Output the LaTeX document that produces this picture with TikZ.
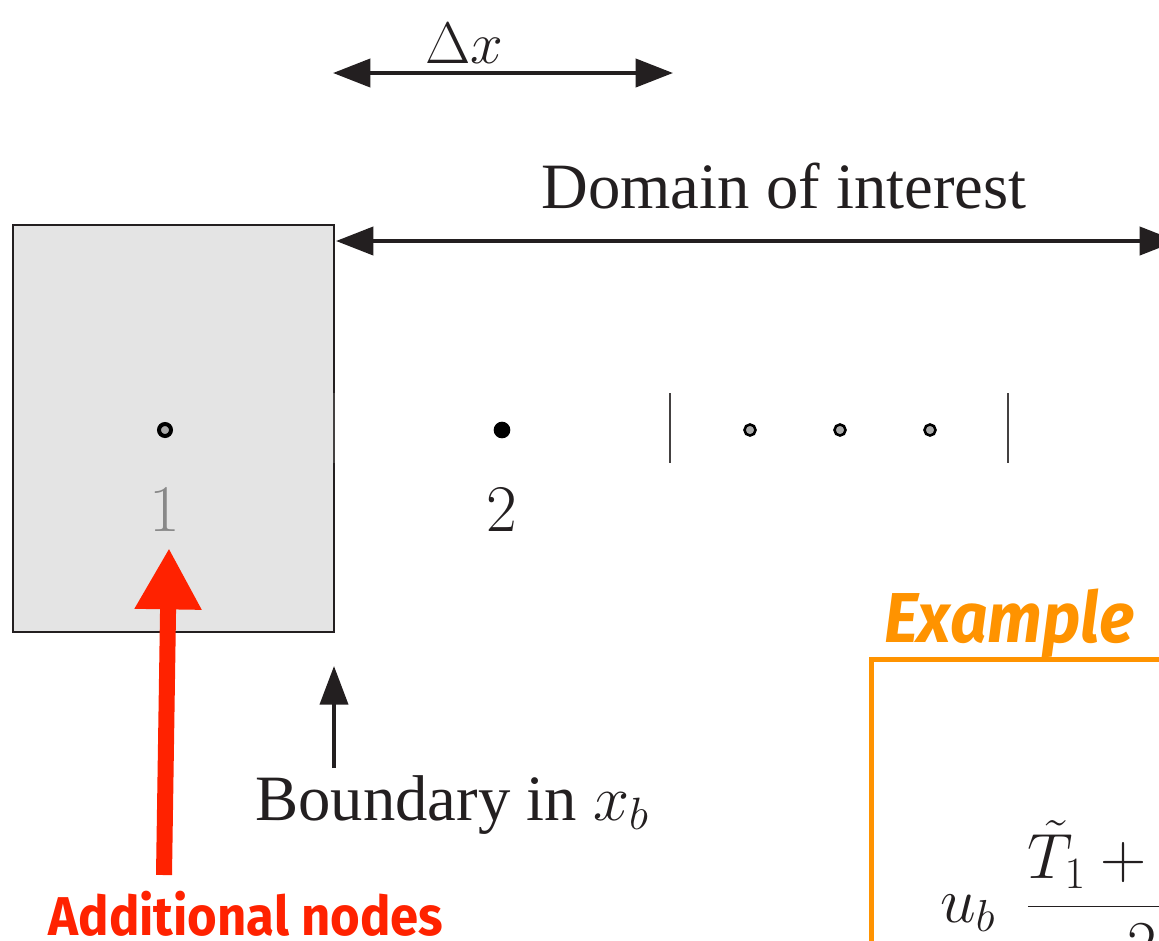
\documentclass[tikz,border=0pt]{standalone}
\usepackage{fix-cm}
\usepackage{fontspec}
\setmainfont{Liberation Serif}
\newfontfamily\labelfont[FakeStretch=0.93]{Fira Sans}
\usetikzlibrary{arrows.meta}
\definecolor{boxgray}{HTML}{E4E4E4}
\definecolor{ink}{HTML}{231F20}
\definecolor{ptgray}{HTML}{AAAAAA}
\definecolor{numgray}{HTML}{888888}
\definecolor{redc}{RGB}{255,34,0}
\definecolor{orng}{RGB}{255,147,0}
\begin{document}
\begin{tikzpicture}[x=0.75pt,y=-0.75pt,
  dimarrow/.style={draw=ink, line width=3pt, {Triangle[length=28pt,width=21pt]}-{Triangle[length=28pt,width=21pt]}},
  uparrow/.style={draw=ink, line width=3pt, -{Triangle[length=29pt,width=21pt]}},
  tickline/.style={draw=ink!85, line width=1.6pt},
  ghostpt/.style={circle, draw=black, fill=ptgray, line width=3pt, minimum size=9pt, inner sep=0pt},
  interpt/.style={circle, fill=black, minimum size=12.5pt, inner sep=0pt},
  farpt/.style={circle, draw=black, fill=ptgray, line width=1.9pt, minimum size=8.3pt, inner sep=0pt},
  serif/.style={font=\fontsize{48.5}{58}\selectfont, text=ink, inner sep=0pt},
  numlbl/.style={font=\fontsize{50}{60}\selectfont, inner sep=0pt},
  eqfont/.style={font=\fontsize{48}{60}\selectfont, text=ink, inner sep=0pt},
]
\useasboundingbox (0,0) rectangle (1159,940);
\clip (0,0) rectangle (1159,940);

% ghost cell
\node[draw=ink, fill=boxgray, line width=1.5pt, minimum width=240.75pt, minimum height=305.25pt, inner sep=0pt] (ghost) at (173.5,428.5) {};
\coordinate (bt) at (334,393);
\coordinate (bb) at (334,463);
\draw[tickline] (bt) -- (bb);

% points
\node[ghostpt] (p1) at (165,430) {};
\node[interpt] (p2) at (502,430) {};
\node[farpt] (p3) at (750,430) {};
\node[farpt] (p4) at (840,430) {};
\node[farpt] (p5) at (930,430) {};
\node[numlbl, text=numgray, anchor=base] (l1) at (165,531) {$1$};
\node[numlbl, text=ink, anchor=base] (l2) at (502,531) {$2$};

% ticks
\coordinate (t1a) at (670,393); \coordinate (t1b) at (670,463);
\coordinate (t2a) at (1008,393); \coordinate (t2b) at (1008,463);
\draw[tickline] (t1a) -- (t1b);
\draw[tickline] (t2a) -- (t2b);

% delta x
\coordinate (dxl) at (333,73);
\coordinate (dxr) at (673,73);
\draw[dimarrow] (dxl) -- (dxr);
\node[font=\fontsize{44}{52}\selectfont, text=ink, anchor=base, inner sep=0pt] (dxlab) at (464,63) {$\Delta x$};

% domain of interest
\coordinate (dol) at (336,241);
\coordinate (dor) at (1177,241);
\draw[dimarrow] (dol) -- (dor);
\node[serif, anchor=base] (dolab) at (784,208) {Domain of interest};

% boundary
\coordinate (bnd0) at (334,768);
\coordinate (bnd1) at (334,666);
\draw[uparrow] (bnd0) -- (bnd1);
\node[serif, anchor=base] (bndlab) at (452,820) {Boundary in $x_b$};

% additional nodes
\coordinate (ra0) at (164,875);
\coordinate (ra1) at (169,548);
\draw[draw=redc, line width=12pt, -{Triangle[length=46pt,width=47pt]}] (ra0) -- (ra1);
\node[font=\labelfont\bfseries\fontsize{41}{50}\selectfont, text=redc, anchor=base, inner sep=0pt] (addlab) at (246,935) {Additional nodes};

% example box
\node[font=\labelfont\bfseries\itshape\fontsize{53}{64}\selectfont, text=orng, anchor=base, inner sep=0pt] (exlab) at (1009,642) {Example};
\node[draw=orng, line width=3.75pt, minimum width=471.75pt, minimum height=480.75pt, inner sep=0pt] (exbox) at (1185.5,979.5) {};
\node[eqfont, anchor=base west] (ub) at (940,922) {$u_b$};
\node[eqfont, anchor=base west] (fr) at (1026,922) {$\displaystyle\frac{\tilde{T}_1+\tilde{T}_2\hspace{0.6em}}{2}$};
\end{tikzpicture}
\end{document}
